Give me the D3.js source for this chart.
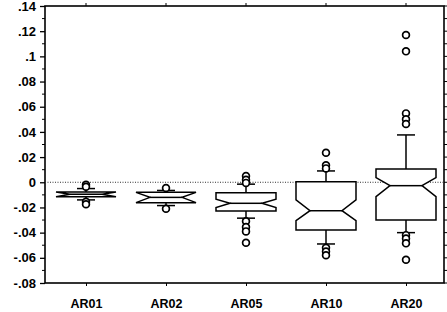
<!DOCTYPE html>
<html>
<head>
<meta charset="utf-8">
<script src="https://cdn.jsdelivr.net/npm/d3@7"></script>
<style>
  body { margin: 0; background: #fff; }
  text { font-family: "Liberation Sans", Arial, sans-serif; font-weight: bold; fill: #000; }
</style>
</head>
<body>
<svg id="chart"></svg>
<script>
// categories and box statistics
let categories = ['AR01', 'AR02', 'AR05', 'AR10', 'AR20']
let q1s     = [-0.0115, -0.0162, -0.0228, -0.0379, -0.0300]
let medians = [-0.0095, -0.0120, -0.0167, -0.0226, -0.0027]
let q3s     = [-0.0078, -0.0080, -0.0083,  0.0005,  0.0105]
let notchLo = [-0.0115, -0.0162, -0.0200, -0.0305, -0.0114]
let notchHi = [-0.0078, -0.0080, -0.0135, -0.0140,  0.0037]
let whiskerLo = [-0.0140, -0.0185, -0.0285, -0.0490, -0.0400]
let whiskerHi = [-0.0050, -0.0065, -0.0015,  0.0090,  0.0376]
let outliers = [
    [-0.002, -0.0035, -0.0155, -0.0175],
    [-0.0045, -0.021],
    [0.005, 0.002, -0.0005, -0.031, -0.0355, -0.039, -0.048],
    [0.0235, 0.0135, 0.011, -0.052, -0.055, -0.058],
    [0.117, 0.104, 0.0547, 0.050, 0.0463, -0.042, -0.0446, -0.0485, -0.0615]
]
let yTicks = [0.14, 0.12, 0.10, 0.08, 0.06, 0.04, 0.02, 0, -0.02, -0.04, -0.06, -0.08]
let yTickLabels = ['.14', '.12', '.1', '.08', '.06', '.04', '.02', '0', '-.02', '-.04', '-.06', '-.08']

let width = 447
let height = 312
let plotLeft = 45, plotRight = 444, plotTop = 6, plotBottom = 283

let svg = d3.select('#chart').attr('width', width).attr('height', height)

let xScale = d3.scalePoint().domain(categories).range([46, 446]).padding(0.5)
let yScale = d3.scaleLinear().domain([-0.08, 0.14]).range([plotBottom, plotTop])

let boxHalf = 30
let indent = 14
let capHalf = 9

// frame
svg.append('rect')
    .attr('x', plotLeft).attr('y', plotTop)
    .attr('width', plotRight - plotLeft).attr('height', plotBottom - plotTop)
    .attr('fill', 'none').attr('stroke', '#000').attr('stroke-width', 1.6)

// zero reference line
svg.append('line')
    .attr('x1', plotLeft).attr('x2', plotRight)
    .attr('y1', yScale(0)).attr('y2', yScale(0))
    .attr('stroke', '#333').attr('stroke-width', 1)
    .attr('stroke-dasharray', '1,1.5')

// left axis with minor ticks
let yAxis = d3.axisLeft(yScale)
    .tickValues(yTicks)
    .tickFormat((d, i) => yTickLabels[i])
    .tickSize(5)
    .tickPadding(4)
let gy = svg.append('g').attr('transform', `translate(${plotLeft},0)`).call(yAxis)
gy.select('.domain').remove()
gy.selectAll('text').style('font-size', '13px')
gy.selectAll('line').attr('stroke-width', 1.3)

let minor = d3.range(-0.07, 0.14, 0.02)
svg.append('g').selectAll('line').data(minor).enter().append('line')
    .attr('x1', plotLeft - 3).attr('x2', plotLeft)
    .attr('y1', (d) => yScale(d)).attr('y2', (d) => yScale(d))
    .attr('stroke', '#000').attr('stroke-width', 1)

// right side ticks
svg.append('g').selectAll('line').data(yTicks.concat(minor)).enter().append('line')
    .attr('x1', plotRight).attr('x2', plotRight + 3)
    .attr('y1', (d) => yScale(d)).attr('y2', (d) => yScale(d))
    .attr('stroke', '#000').attr('stroke-width', 1)

// bottom axis
let xAxis = d3.axisBottom(xScale).tickSize(3).tickPadding(13)
let gx = svg.append('g').attr('transform', `translate(0,${plotBottom})`).call(xAxis)
gx.select('.domain').remove()
gx.selectAll('text').style('font-size', '12.5px')

// top ticks
svg.append('g').selectAll('line').data(categories).enter().append('line')
    .attr('x1', (d) => xScale(d)).attr('x2', (d) => xScale(d))
    .attr('y1', plotTop).attr('y2', plotTop - 3)
    .attr('stroke', '#000').attr('stroke-width', 1)

// boxes
let boxes = categories.map((c, i) => ({
    cat: c, q1: q1s[i], med: medians[i], q3: q3s[i],
    nlo: notchLo[i], nhi: notchHi[i],
    wlo: whiskerLo[i], whi: whiskerHi[i], out: outliers[i]
}))

let g = svg.append('g').selectAll('g').data(boxes).enter().append('g')

// whiskers
g.append('line')
    .attr('x1', (d) => xScale(d.cat)).attr('x2', (d) => xScale(d.cat))
    .attr('y1', (d) => yScale(d.q3)).attr('y2', (d) => yScale(d.whi))
    .attr('stroke', '#000').attr('stroke-width', 1.5)
g.append('line')
    .attr('x1', (d) => xScale(d.cat)).attr('x2', (d) => xScale(d.cat))
    .attr('y1', (d) => yScale(d.q1)).attr('y2', (d) => yScale(d.wlo))
    .attr('stroke', '#000').attr('stroke-width', 1.5)
g.append('line')
    .attr('x1', (d) => xScale(d.cat) - capHalf).attr('x2', (d) => xScale(d.cat) + capHalf)
    .attr('y1', (d) => yScale(d.whi)).attr('y2', (d) => yScale(d.whi))
    .attr('stroke', '#000').attr('stroke-width', 1.5)
g.append('line')
    .attr('x1', (d) => xScale(d.cat) - capHalf).attr('x2', (d) => xScale(d.cat) + capHalf)
    .attr('y1', (d) => yScale(d.wlo)).attr('y2', (d) => yScale(d.wlo))
    .attr('stroke', '#000').attr('stroke-width', 1.5)

// notched box
g.append('path')
    .attr('d', (d) => {
        let c = xScale(d.cat)
        let l = c - boxHalf, r = c + boxHalf
        return `M${l},${yScale(d.q3)} L${r},${yScale(d.q3)} L${r},${yScale(d.nhi)} ` +
            `L${r - indent},${yScale(d.med)} L${r},${yScale(d.nlo)} L${r},${yScale(d.q1)} ` +
            `L${l},${yScale(d.q1)} L${l},${yScale(d.nlo)} L${l + indent},${yScale(d.med)} ` +
            `L${l},${yScale(d.nhi)} Z`
    })
    .attr('fill', '#fff').attr('stroke', '#000').attr('stroke-width', 1.5)
g.append('line')
    .attr('x1', (d) => xScale(d.cat) - boxHalf + indent).attr('x2', (d) => xScale(d.cat) + boxHalf - indent)
    .attr('y1', (d) => yScale(d.med)).attr('y2', (d) => yScale(d.med))
    .attr('stroke', '#000').attr('stroke-width', 1.5)

// outliers
g.selectAll('circle').data((d) => d.out.map((v) => ({ cat: d.cat, v: v }))).enter().append('circle')
    .attr('cx', (d) => xScale(d.cat))
    .attr('cy', (d) => yScale(d.v))
    .attr('r', 3.4)
    .attr('fill', '#fff').attr('stroke', '#000').attr('stroke-width', 1.7)
</script>
</body>
</html>
